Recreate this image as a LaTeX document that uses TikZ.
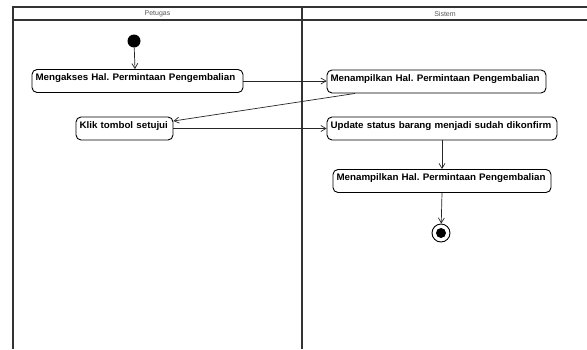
\documentclass[tikz,border=0pt]{standalone}
\usepackage{fontspec}
\setmainfont{Liberation Sans}
\newfontfamily\boxfont[FakeStretch=1.03]{Liberation Sans}
\usetikzlibrary{arrows.meta}
\frenchspacing
\begin{document}
\begin{tikzpicture}[x=1pt,y=-1pt,
  act/.style={draw=black, line width=0.9pt, rounded corners=5pt, fill=white,
    inner xsep=3.5pt, inner ysep=2.5pt, text height=8.5pt, text depth=9.5pt,
    font=\boxfont\bfseries\fontsize{9.5}{11}\selectfont\frenchspacing, align=left},
  flow/.style={draw=black!85, line width=0.7pt, -{Straight Barb[length=5pt,width=6pt]}},
  lane/.style={draw=black!80, line width=1.3pt},
  lanetitle/.style={font=\fontsize{7}{8}\selectfont, text=black!65, inner sep=0pt}]
\useasboundingbox (0,0) rectangle (587,349);
\fill[white] (0,0) rectangle (587,349);
% swimlanes
\draw[lane] (587,7) -- (13,7) -- (13,349);
\draw[lane] (13,20) -- (587,20);
\draw[lane] (302,7) -- (302,349);
\node[lanetitle] (pt) at (157.5,13.5) {Petugas};
\node[lanetitle] (st) at (445,13.5) {Sistem};
% activities
\node[act, minimum width=211pt, text width=204pt] (m1) at (137.5,81) {\mbox{Mengakses Hal. Permintaan Pengembalian}};
\node[act, minimum width=219pt, text width=212pt] (s1) at (436.5,81.5) {\mbox{Menampilkan Hal. Permintaan Pengembalian}};
\node[act, minimum width=97pt, text width=90pt] (k) at (124.5,128.5) {\mbox{Klik tombol setujui}};
\node[act, minimum width=230pt, text width=223pt] (u) at (442,128.5) {\mbox{Update status barang menjadi sudah dikonfirm}};
\node[act, minimum width=218pt, text width=211pt] (s2) at (442,181) {\mbox{Menampilkan Hal. Permintaan Pengembalian}};
% start / end
\node[circle, fill=black, minimum size=13pt, inner sep=0pt] (ini) at (134,41) {};
\node[circle, draw=black, line width=0.9pt, fill=white, minimum size=18pt, inner sep=0pt] (fin) at (441,233) {};
\node[circle, fill=black, minimum size=10pt, inner sep=0pt] (finin) at (fin) {};
% flows
\draw[flow] (ini) -- ([xshift=-2.5pt]m1.north);
\draw[flow] (m1.east) -- (m1.east -| s1.west);
\draw[flow] ([xshift=-81.5pt]s1.south) -- ([yshift=7.5pt]k.east);
\draw[flow] (k.east) -- (k.east -| u.west);
\draw[flow] (u.south) -- (s2.north);
\draw[flow] (s2.south) -- (fin);
\end{tikzpicture}
\end{document}
